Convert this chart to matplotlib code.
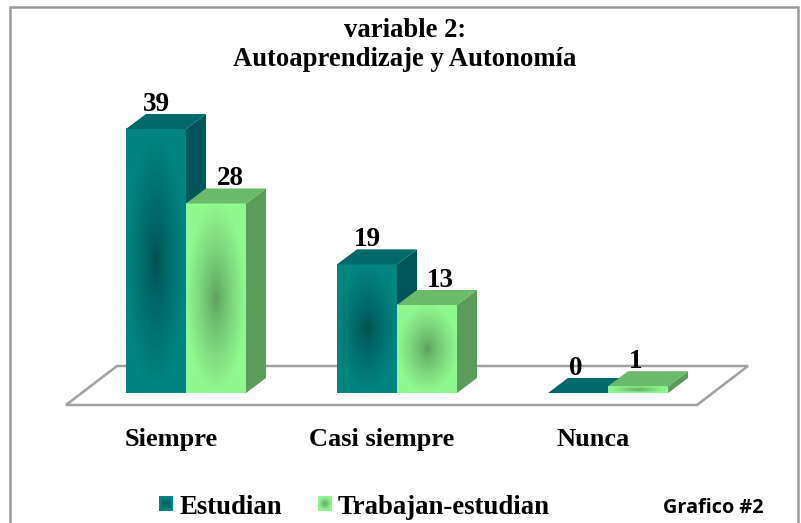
import numpy as np
import matplotlib
matplotlib.use('Agg')
import matplotlib.pyplot as plt
from matplotlib.patches import Polygon

categories = ['Siempre', 'Casi siempre', 'Nunca']
estudian = [39, 19, 0]
trabajan = [28, 13, 1]
series_names = ['Estudian', 'Trabajan-estudian']
title = 'variable 2:\nAutoaprendizaje y Autonomía'
note = 'Grafico #2'

# scale: pixels per category and per unit of value
px_cat = 211.0
px_val = 6.77
x0_px = 186.0
y0_px = 393.0
W, H = 801, 523

bar_w = 60 / px_cat
depth_x = 20 / px_cat
depth_y = 15 / px_val

plt.rcParams['font.family'] = ['Liberation Serif', 'DejaVu Serif']

fig = plt.figure(figsize=(W / 100, H / 100), dpi=100)
ax = fig.add_axes([0, 0, 1, 1])
ax.axis('off')


def x_px(p):
    return (p - x0_px) / px_cat


def y_px(p):
    return (y0_px - p) / px_val


def radial(edge, centre, n=120):
    # dark blob in the middle of a face
    u, v = np.meshgrid(np.linspace(-1, 1, n), np.linspace(-1, 1, n))
    t = np.clip(np.sqrt(u ** 2 + v ** 2), 0, 1) ** 0.75
    edge = np.array(matplotlib.colors.to_rgb(edge))
    centre = np.array(matplotlib.colors.to_rgb(centre))
    return centre + (edge - centre) * t[..., None]


def draw_bar(left, value, front, blob, top, side, z):
    right = left + bar_w
    if value > 0:
        ax.imshow(radial(front, blob), extent=[left, right, 0, value],
                  aspect='auto', zorder=z, interpolation='bilinear')
        ax.add_patch(Polygon([(right, 0), (right + depth_x, depth_y),
                              (right + depth_x, value + depth_y), (right, value)],
                             facecolor=side, edgecolor='none', zorder=z))
    ax.add_patch(Polygon([(left, value), (right, value),
                          (right + depth_x, value + depth_y), (left + depth_x, value + depth_y)],
                         facecolor=top, edgecolor='none', zorder=z))


# chart frame, open at the bottom
ax.plot([x_px(10), x_px(10), x_px(797.5), x_px(797.5)],
        [y_px(523), y_px(6.5), y_px(6.5), y_px(523)],
        color='#9a9a9a', lw=1.8, zorder=1, solid_joinstyle='miter')

# floor
ax.add_patch(Polygon([(x_px(66), y_px(405)), (x_px(697), y_px(405)),
                      (x_px(748), y_px(366)), (x_px(117), y_px(366))],
                     closed=True, facecolor='white', edgecolor='#a0a0a0', lw=1.8, zorder=2))

teal = ('#008582', '#004f4f', '#00696a', '#005557')
green = ('#90f890', '#5c9c5c', '#6aba6a', '#5a9c5a')

label_shift = [[0, 0, -2], [14, 13, -2]]
for i in range(len(categories)):
    draw_bar(i - bar_w, estudian[i], *teal, 3 + i)
    draw_bar(i, trabajan[i], *green, 3.5 + i)
    ax.text(i - bar_w / 2 + label_shift[0][i] / px_cat, estudian[i] + 18 / px_val, str(estudian[i]),
            ha='center', va='baseline', fontsize=19.5, fontweight='bold', zorder=10)
    ax.text(i + bar_w / 2 + label_shift[1][i] / px_cat, trabajan[i] + 18 / px_val, str(trabajan[i]),
            ha='center', va='baseline', fontsize=19.5, fontweight='bold', zorder=10)
    ax.text(i - 15 / px_cat, y_px(446), categories[i], ha='center', va='baseline',
            fontsize=19, fontweight='bold', zorder=10)

ax.text(x_px(405), y_px(66), title, ha='center', va='baseline', fontsize=19.2,
        fontweight='bold', linespacing=1.2, zorder=10)

# legend
for sx, tx, cols, name in [(159, 179, teal, series_names[0]), (318, 338, green, series_names[1])]:
    ax.imshow(radial(cols[0], cols[1], 30), extent=[x_px(sx), x_px(sx + 14), y_px(511), y_px(497)],
              aspect='auto', zorder=10, interpolation='bilinear')
    ax.text(x_px(tx), y_px(514), name, ha='left', va='baseline', fontsize=19.3,
            fontweight='bold', zorder=10)

ax.text(x_px(663), y_px(513), note, ha='left', va='baseline', fontsize=14.3,
        fontweight='bold', family=['Open Sans', 'DejaVu Sans'], zorder=10)

ax.set_xlim(x_px(0), x_px(W))
ax.set_ylim(y_px(H), y_px(0))

fig.savefig('out.png', dpi=100, facecolor='white')
